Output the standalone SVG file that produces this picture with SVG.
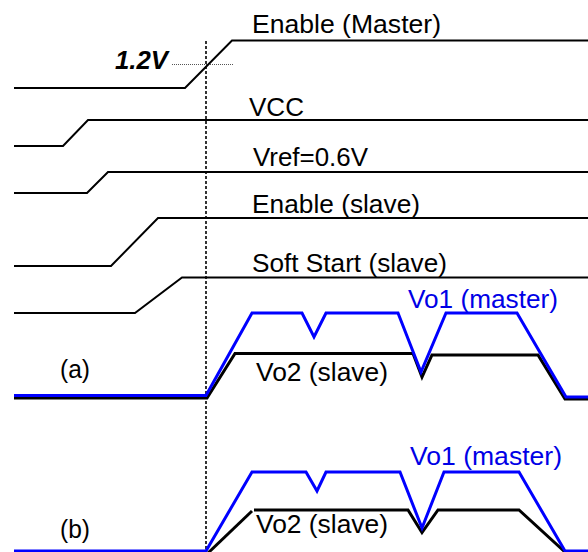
<svg xmlns="http://www.w3.org/2000/svg" width="588" height="552" viewBox="0 0 588 552">
<style>
.sig{fill:none;stroke:#000;stroke-width:2;stroke-linejoin:miter}
.vb{fill:none;stroke:#000;stroke-width:3;stroke-linejoin:miter}
.vo{fill:none;stroke:#0000ff;stroke-width:3;stroke-linejoin:miter}
.t{font-family:"Liberation Sans",Arial,sans-serif;font-size:25.5px;fill:#000}
.tb{fill:#0000e6}
</style>
<rect width="588" height="552" fill="#fff"/>
<g id="guides">
<line x1="206" y1="41" x2="206" y2="552" stroke="#000" stroke-width="1.6" stroke-dasharray="3,2"/>
<line x1="172" y1="64.5" x2="233" y2="64.5" stroke="#555" stroke-width="1" stroke-dasharray="1,1"/>
<text class="t" x="115" y="68.5" font-weight="bold" font-style="italic" font-size="21" textLength="53" lengthAdjust="spacingAndGlyphs">1.2V</text>
</g>
<g id="enable-master">
<polyline class="sig" points="14,88 185,88 232,40.5 588,40.5"/>
<text class="t" x="252" y="33" textLength="189" lengthAdjust="spacingAndGlyphs">Enable (Master)</text>
</g>
<g id="vcc">
<polyline class="sig" points="14,146 63,146 88,120 588,120"/>
<text class="t" x="249" y="116" textLength="55" lengthAdjust="spacingAndGlyphs">VCC</text>
</g>
<g id="vref">
<polyline class="sig" points="14,193 87,193 108,172 588,172"/>
<text class="t" x="253" y="166" textLength="115" lengthAdjust="spacingAndGlyphs">Vref=0.6V</text>
</g>
<g id="enable-slave">
<polyline class="sig" points="14,266 111,266 158,218 588,218"/>
<text class="t" x="252" y="212.5" textLength="168" lengthAdjust="spacingAndGlyphs">Enable (slave)</text>
</g>
<g id="soft-start">
<polyline class="sig" points="14,313 135,313 182,277.5 588,277.5"/>
<text class="t" x="252" y="271.5" textLength="195" lengthAdjust="spacingAndGlyphs">Soft Start (slave)</text>
</g>
<g id="case-a">
<polyline class="vb" points="14,398 207,398 235,353.5 413,353.5 422,377 432,355 538,355 565,399 588,399"/>
<polyline class="vo" points="14,395.5 206,395.5 252,313 302,313 314,337 326,313 398,313 421,372 446,313 517,313 566,397 588,397"/>
<text class="t tb" x="408" y="308" textLength="150" lengthAdjust="spacingAndGlyphs">Vo1 (master)</text>
<text class="t" x="256" y="381" textLength="132" lengthAdjust="spacingAndGlyphs">Vo2 (slave)</text>
<text class="t" x="60" y="378" textLength="30" lengthAdjust="spacingAndGlyphs">(a)</text>
</g>
<g id="case-b">
<polyline class="vb" points="208,553 252,511"/>
<polyline class="vb" points="254,510 408,510 422,532.5 438,510 519,510 565,552"/>
<polyline class="vo" points="14,551 206,551 252,472 306,472 317,491 326,472 400,472 422,528 444,472 519,472 565,551 588,551"/>
<text class="t tb" x="410" y="465" textLength="152" lengthAdjust="spacingAndGlyphs">Vo1 (master)</text>
<text class="t" x="256" y="533" textLength="132" lengthAdjust="spacingAndGlyphs">Vo2 (slave)</text>
<text class="t" x="60" y="538" textLength="30" lengthAdjust="spacingAndGlyphs">(b)</text>
</g>
</svg>
